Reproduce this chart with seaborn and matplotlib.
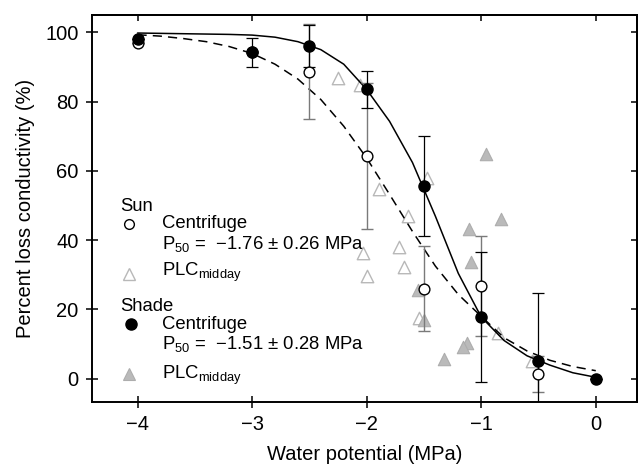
import numpy as np
import pandas as pd
import matplotlib
matplotlib.use('Agg')
import seaborn as sns
import matplotlib.pyplot as plt

# centrifuge means (open = sun, filled = shade)
sun_psi = [-4, -3, -2.5, -2, -1.5, -1, -0.5]
sun_plc = [96.8, 94.3, 88.6, 64.3, 26.0, 26.7, 1.3]
sun_err = [0, 0, 13.7, 21.0, 12.2, 14.4, 5.1]

shade_psi = [-4, -3, -2.5, -2, -1.5, -1, -0.5, 0]
shade_plc = [98.0, 94.3, 96.0, 83.5, 55.7, 17.8, 5.1, 0.0]
shade_err = [0, 4.2, 6.0, 5.3, 14.5, 18.7, 19.5, 0]

# midday PLC triangles
sun_mid_psi = [-2.25, -2.06, -1.47, -1.89, -1.64, -1.72, -2.03, -1.67, -2.0, -1.54, -0.85, -0.56]
sun_mid_plc = [86.7, 84.7, 57.8, 54.9, 46.9, 38.0, 36.3, 32.1, 29.6, 17.4, 13.3, 5.0]
shade_mid_psi = [-0.955, -0.83, -1.11, -1.09, -1.55, -1.5, -1.12, -1.16, -1.325]
shade_mid_plc = [64.8, 46.2, 43.2, 33.7, 25.6, 16.9, 10.3, 9.2, 5.8]

# fitted curves
curve_psi = [-4.0, -3.8, -3.6, -3.4, -3.2, -3.0, -2.8, -2.6, -2.4, -2.2, -2.0,
             -1.8, -1.6, -1.4, -1.2, -1.0, -0.8, -0.6, -0.4, -0.2, 0.0]
shade_curve = [99.8, 99.7, 99.6, 99.5, 99.4, 99.2, 98.6, 97.3, 95.0, 90.8, 83.5,
               74.3, 62.4, 46.9, 30.4, 17.8, 11.0, 6.6, 3.9, 1.7, 0.4]
sun_curve = [99.3, 98.9, 98.2, 97.3, 95.9, 93.9, 90.8, 86.5, 80.6, 72.9, 63.7,
             53.2, 42.5, 32.5, 24.3, 18.0, 11.8, 8.0, 5.3, 3.5, 2.3]

xticks = [-4, -3, -2, -1, 0]
yticks = [0, 20, 40, 60, 80, 100]

sns.set_style('ticks')
plt.rcParams['font.family'] = 'Liberation Sans'
plt.rcParams['mathtext.fontset'] = 'custom'
plt.rcParams['mathtext.rm'] = 'Liberation Sans'
plt.rcParams['mathtext.it'] = 'Liberation Sans'
for k in ['text.color', 'axes.labelcolor', 'xtick.color', 'ytick.color', 'axes.edgecolor']:
    plt.rcParams[k] = 'black'

fig = plt.figure(figsize=(6.39, 4.69), dpi=100)
ax = fig.add_axes([0.1435, 0.1439, 0.8534, 0.8241])

light = '#b8b8b8'
gray = '#bababa'
sns.scatterplot(x=sun_mid_psi, y=sun_mid_plc, marker='^', s=80, color='white',
                edgecolor=light, linewidth=1.0, ax=ax, zorder=2)
sns.scatterplot(x=shade_mid_psi, y=shade_mid_plc, marker='^', s=80, color=gray,
                edgecolor='#adadad', linewidth=0.8, ax=ax, zorder=2)

sns.lineplot(x=curve_psi, y=shade_curve, color='black', lw=1.1, ax=ax, zorder=3)
sns.lineplot(x=curve_psi, y=sun_curve, color='black', lw=1.1, linestyle=(0, (6, 4)),
             ax=ax, zorder=3)

ax.errorbar(sun_psi, sun_plc, yerr=sun_err, fmt='none', ecolor='#7a7a7a',
            elinewidth=1.0, capsize=4, capthick=1.0, zorder=4)
ax.errorbar(shade_psi, shade_plc, yerr=shade_err, fmt='none', ecolor='black',
            elinewidth=0.9, capsize=4, capthick=0.9, zorder=4)

sns.scatterplot(x=sun_psi, y=sun_plc, marker='o', s=60, color='white',
                edgecolor='black', linewidth=1.0, ax=ax, zorder=5)
sns.scatterplot(x=shade_psi, y=shade_plc, marker='o', s=64, color='black',
                edgecolor='black', linewidth=1.0, ax=ax, zorder=6)

ax.set_xlim(-4.40, 0.36)
ax.set_ylim(-6.6, 105)
ax.set_xticks(xticks)
ax.set_yticks(yticks)
ax.tick_params(direction='inout', length=9, width=1.1, labelsize=14.5, pad=5)
for s in ax.spines.values():
    s.set_linewidth(1.4)
    s.set_visible(True)

top = ax.secondary_xaxis('top')
top.set_xticks(xticks)
top.tick_params(direction='in', length=4.5, width=1.1, labeltop=False)
top.spines['top'].set_linewidth(1.4)
right = ax.secondary_yaxis('right')
right.set_yticks(yticks)
right.tick_params(direction='in', length=4.5, width=1.1, labelright=False)
right.spines['right'].set_linewidth(1.4)

ax.set_xlabel('Water potential (MPa)', fontsize=14.5, labelpad=8)
ax.set_ylabel('Percent loss conductivity (%)', fontsize=14.5, labelpad=7)

# legend drawn by hand
fs = 13.3
tr = ax.transAxes
p50_sun = 'P$_{\\mathrm{50}}$ =  \u22121.76 \u00b1 0.26 MPa'
p50_shade = 'P$_{\\mathrm{50}}$ =  \u22121.51 \u00b1 0.28 MPa'
plc_lab = 'PLC$_{\\mathrm{midday}}$'

ax.text(0.052, 0.4937, 'Sun', transform=tr, fontsize=fs, va='baseline')
ax.plot([0.0693], [0.4605], 'o', ms=7, mfc='white', mec='black', mew=1.0, transform=tr)
ax.text(0.1284, 0.4497, 'Centrifuge', transform=tr, fontsize=fs, va='baseline')
ax.text(0.1284, 0.3938, p50_sun, transform=tr, fontsize=fs, va='baseline')
ax.plot([0.0675], [0.3312], '^', ms=9, mfc='white', mec=light, mew=1.0, transform=tr)
ax.text(0.1284, 0.3247, plc_lab, transform=tr, fontsize=fs, va='baseline')

ax.text(0.052, 0.2342, 'Shade', transform=tr, fontsize=fs, va='baseline')
ax.plot([0.0715], [0.2005], 'o', ms=8, mfc='black', mec='black', transform=tr)
ax.text(0.1284, 0.1876, 'Centrifuge', transform=tr, fontsize=fs, va='baseline')
ax.text(0.1284, 0.1351, p50_shade, transform=tr, fontsize=fs, va='baseline')
ax.plot([0.069], [0.0712], '^', ms=9, mfc=gray, mec='#adadad', mew=0.8, transform=tr)
ax.text(0.1284, 0.0582, plc_lab, transform=tr, fontsize=fs, va='baseline')

fig.savefig('out.png', dpi=100)
